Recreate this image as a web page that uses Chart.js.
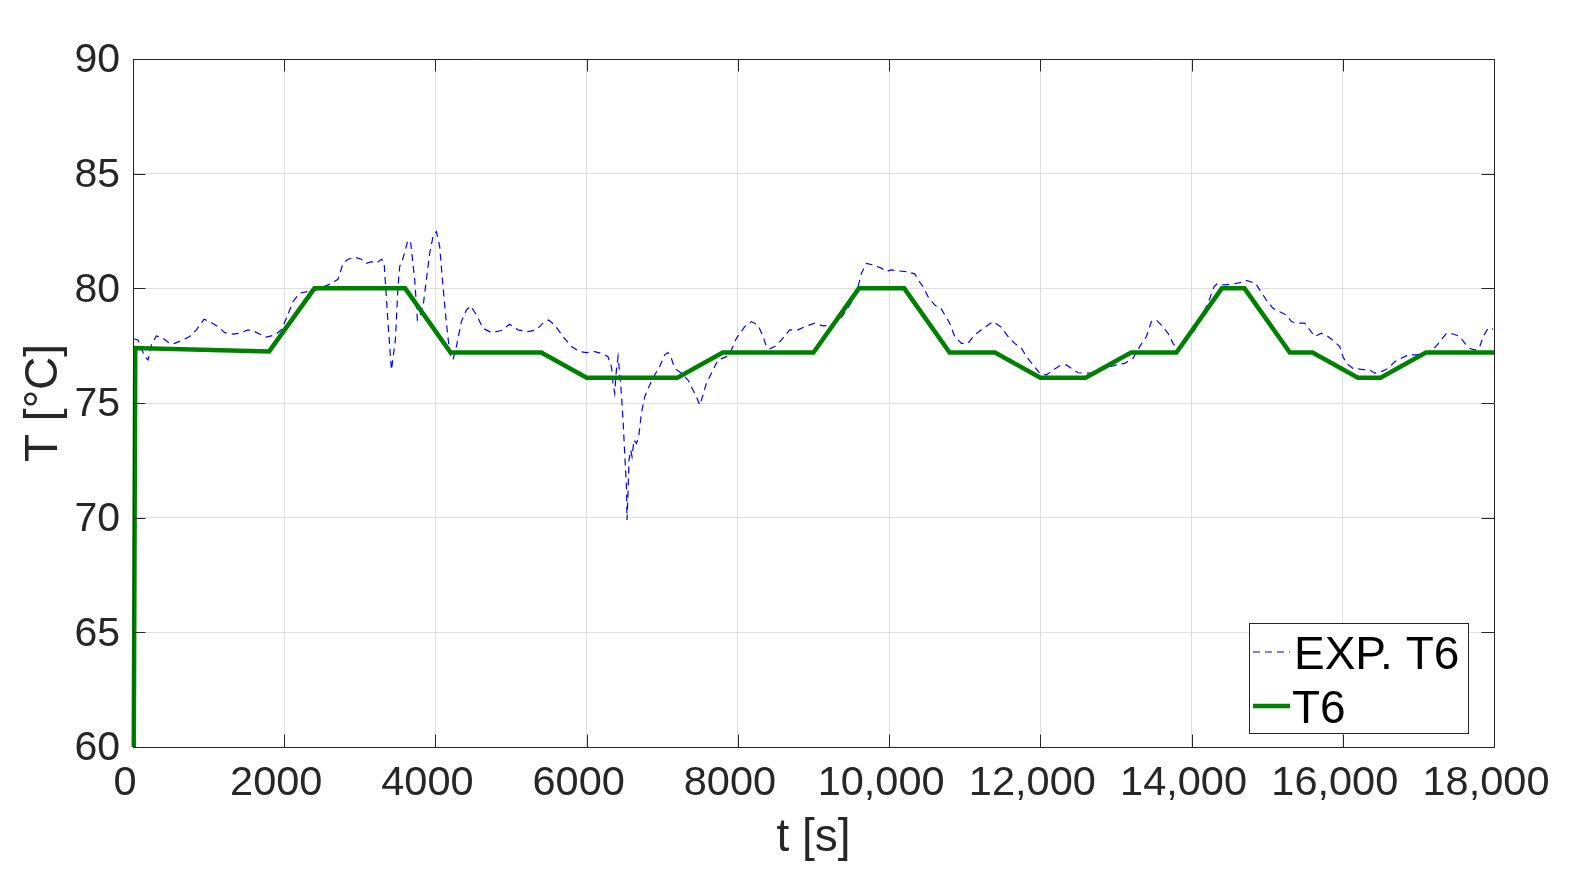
<!DOCTYPE html>
<html>
<head>
<meta charset="utf-8">
<script src="https://cdn.jsdelivr.net/npm/chart.js@4.4.1/dist/chart.umd.min.js"></script>
<style>
  html, body { margin: 0; padding: 0; background: #ffffff; }
  #wrap { width: 1580px; height: 884px; }
</style>
</head>
<body>
<div id="wrap"><canvas id="c" width="1580" height="884"></canvas></div>
<script>
// ---- data ----
const expTime = [10,66,155,199,243,309,375,485,551,661,750,838,939,1014,1124,1213,1323,1411,1521,1610,1698,1764,1874,1962,2029,2116,2205,2315,2426,2579,2645,2711,2778,2844,2932,3020,3087,3153,3219,3285,3320,3373,3418,3470,3505,3527,3571,3637,3673,3726,3761,3792,3836,3880,3924,3968,4013,4056,4100,4145,4189,4232,4277,4343,4410,4466,4542,4629,4740,4872,4982,5092,5224,5335,5422,5498,5577,5687,5798,5908,5997,6106,6216,6282,6327,6348,6371,6393,6415,6437,6459,6481,6503,6526,6534,6547,6560,6583,6600,6626,6658,6688,6724,6768,6834,6900,6966,7032,7076,7120,7164,7253,7340,7406,7451,7495,7539,7583,7650,7737,7848,7914,7980,8090,8179,8266,8333,8377,8421,8487,8576,8685,8795,8906,9016,9126,9237,9347,9435,9523,9589,9634,9700,9787,9898,9964,10030,10118,10229,10339,10383,10449,10515,10603,10690,10801,10867,10956,11043,11132,11221,11308,11374,11485,11573,11661,11750,11816,11903,11992,12080,12168,12256,12345,12411,12498,12587,12676,12785,12895,13006,13116,13226,13314,13403,13469,13535,13601,13689,13755,13823,13887,13953,14042,14130,14218,14297,14336,14447,14547,14640,14731,14845,14901,14990,15077,15166,15254,15320,15387,15496,15563,15629,15717,15805,15893,15959,16003,16047,16135,16246,16356,16422,16511,16599,16687,16776,16864,16975,17085,17195,17283,17372,17460,17548,17614,17680,17746,17812,17856,17922,17988];
const expTemp = [77.8,77.75,77.02,76.88,77.53,77.92,77.87,77.6,77.6,77.75,77.9,78.19,78.65,78.55,78.33,78.07,78.0,78.04,78.19,78.11,77.97,77.87,77.97,78.19,78.7,79.42,79.79,79.86,79.93,80.15,80.26,80.39,81.09,81.27,81.36,81.27,81.09,81.16,81.09,81.27,81.16,78.47,76.44,77.75,80.07,80.95,81.31,82.11,81.97,80.37,78.62,78.77,79.2,80.37,81.53,82.26,82.47,81.82,80.07,78.48,77.17,76.88,77.46,78.55,79.06,79.23,78.84,78.26,78.07,78.16,78.43,78.19,78.11,78.19,78.48,78.62,78.4,77.9,77.46,77.24,77.2,77.24,77.14,77.02,76.59,75.86,75.42,76.44,77.02,76.3,75.42,74.26,72.81,71.35,69.9,71.06,72.52,72.95,72.66,73.39,73.24,73.53,74.55,75.28,75.79,76.22,76.59,77.1,77.2,76.95,76.51,76.3,76.0,75.57,75.28,74.91,75.35,75.86,76.3,76.88,77.02,77.31,77.82,78.33,78.55,78.4,77.9,77.46,77.36,77.46,77.75,78.19,78.19,78.36,78.48,78.36,78.4,78.62,79.06,79.49,80.07,80.66,81.09,81.02,80.88,80.73,80.8,80.76,80.73,80.63,80.37,80.07,79.64,79.27,79.1,78.48,77.9,77.6,77.6,77.97,78.19,78.4,78.55,78.3,77.9,77.6,77.39,77.02,76.66,76.3,76.22,76.44,76.62,76.66,76.51,76.32,76.3,76.32,76.44,76.56,76.66,76.73,76.95,77.46,77.9,78.55,78.62,78.4,78.04,77.6,77.31,77.46,77.82,78.19,78.77,79.35,80.07,80.19,80.15,80.19,80.25,80.34,80.22,79.93,79.49,79.13,78.98,78.84,78.55,78.48,78.48,78.19,77.9,78.04,77.9,77.67,77.46,77.02,76.73,76.51,76.47,76.44,76.3,76.37,76.51,76.8,76.95,77.1,77.1,77.17,77.34,77.67,78.04,78.01,77.9,77.6,77.39,77.31,77.46,77.9,78.26,78.22];

const modelTime = [10,30,1800,2400,3600,4200,5400,6000,7200,7800,9000,9600,10200,10800,11400,12000,12600,13200,13800,14400,14700,15300,15600,16200,16500,17100,18000];
const modelTemp = [60,77.4,77.25,80,80,77.2,77.2,76.1,76.1,77.2,77.2,80,80,77.2,77.2,76.1,76.1,77.2,77.2,80,80,77.2,77.2,76.1,76.1,77.2,77.2];

const xTickValues = [0,2000,4000,6000,8000,10000,12000,14000,16000,18000];
const xTickLabels = ['0','2000','4000','6000','8000','10,000','12,000','14,000','16,000','18,000'];
const yTickValues = [60,65,70,75,80,85,90];
const yTickLabels = ['60','65','70','75','80','85','90'];
const seriesNames = ['EXP. T6','T6'];
const xTitle = 't [s]';
const yTitle = 'T [\u00B0C]';

// ---- chart ----
const FONT = "'Liberation Sans', Arial, Helvetica, sans-serif";
const TXT = '#262626';

const toPts = (xs, ys) => xs.map((v, i) => ({ x: v, y: ys[i] }));

const frame = {
  id: 'frame',
  afterDatasetsDraw(chart) {
    const { ctx, chartArea: a, scales: { x, y } } = chart;
    const tl = 12.5;
    ctx.save();
    ctx.strokeStyle = TXT;
    ctx.lineWidth = 1;
    ctx.beginPath();
    ctx.rect(Math.round(a.left) + 0.5, Math.round(a.top) + 0.5,
             Math.round(a.right) - Math.round(a.left), Math.round(a.bottom) - Math.round(a.top));
    xTickValues.forEach(v => {
      const px = Math.round(x.getPixelForValue(v)) + 0.5;
      ctx.moveTo(px, a.bottom); ctx.lineTo(px, a.bottom - tl);
      ctx.moveTo(px, a.top); ctx.lineTo(px, a.top + tl);
    });
    yTickValues.forEach(v => {
      const py = Math.round(y.getPixelForValue(v)) + 0.5;
      ctx.moveTo(a.left, py); ctx.lineTo(a.left + tl, py);
      ctx.moveTo(a.right, py); ctx.lineTo(a.right - tl, py);
    });
    ctx.stroke();
    ctx.restore();
  },
  afterDraw(chart) {
    const { ctx } = chart;
    const ds = chart.data.datasets;
    ctx.save();
    const bx = 1249.5, by = 623.5, bw = 219, bh = 110;
    ctx.fillStyle = '#ffffff';
    ctx.fillRect(bx, by, bw, bh);
    ctx.strokeStyle = TXT;
    ctx.lineWidth = 1;
    ctx.strokeRect(bx, by, bw, bh);
    const rows = [
      { d: ds[1], y: 652, tx: 1294, ty: 668.5 },
      { d: ds[0], y: 706, tx: 1292, ty: 722.5 }
    ];
    rows.forEach(r => {
      ctx.beginPath();
      ctx.strokeStyle = r.d.borderColor;
      ctx.lineWidth = r.d.borderWidth;
      ctx.setLineDash(r.d.borderDash || []);
      ctx.moveTo(1253, r.y); ctx.lineTo(1290, r.y);
      ctx.stroke();
      ctx.setLineDash([]);
      ctx.fillStyle = '#000000';
      ctx.font = '46px ' + FONT;
      ctx.textAlign = 'left';
      ctx.textBaseline = 'alphabetic';
      ctx.fillText(r.d.label, r.tx, r.ty);
    });
    ctx.restore();
  }
};

new Chart(document.getElementById('c'), {
  type: 'scatter',
  data: {
    datasets: [
      {
        label: seriesNames[1],
        data: toPts(modelTime, modelTemp),
        showLine: true,
        borderColor: '#008000',
        borderWidth: 4.5,
        pointRadius: 0,
        tension: 0,
        clip: { left: 4, top: 0, right: 0, bottom: 3 },
        order: 0
      },
      {
        label: seriesNames[0],
        data: toPts(expTime, expTemp),
        showLine: true,
        borderColor: '#0000ff',
        borderWidth: 1.2,
        borderDash: [7, 5],
        pointRadius: 0,
        tension: 0,
        order: 1
      }
    ]
  },
  options: {
    responsive: false,
    animation: false,
    devicePixelRatio: 1,
    layout: { padding: { left: 0, top: 59, right: 86, bottom: 0 } },
    plugins: { legend: { display: false }, tooltip: { enabled: false } },
    scales: {
      x: {
        type: 'linear',
        min: 0, max: 18000,
        afterFit(s) { s.height = 137; },
        afterBuildTicks(s) { s.ticks = xTickValues.map(v => ({ value: v })); },
        ticks: {
          autoSkip: false,
          maxRotation: 0,
          padding: 12,
          labelOffset: -8,
          color: TXT,
          font: { family: FONT, size: 41.5 },
          callback: (v) => xTickLabels[xTickValues.indexOf(v)]
        },
        grid: { color: '#dfdfdf', lineWidth: 1, drawTicks: false },
        border: { color: TXT, width: 1 },
        title: {
          display: true, text: xTitle, color: TXT,
          font: { family: FONT, size: 46 },
          padding: { top: 0, bottom: 18 }
        }
      },
      y: {
        type: 'linear',
        min: 60, max: 90,
        afterFit(s) { s.width = 133; },
        afterBuildTicks(s) { s.ticks = yTickValues.map(v => ({ value: v })); },
        ticks: {
          autoSkip: false,
          padding: 13,
          labelOffset: 2,
          color: TXT,
          font: { family: FONT, size: 41 },
          callback: (v) => yTickLabels[yTickValues.indexOf(v)]
        },
        grid: { color: '#dfdfdf', lineWidth: 1, drawTicks: false },
        border: { color: TXT, width: 1 },
        title: {
          display: true, text: yTitle, color: TXT,
          font: { family: FONT, size: 46 },
          padding: { top: 17, bottom: 0 }
        }
      }
    }
  },
  plugins: [frame]
});
</script>
</body>
</html>
